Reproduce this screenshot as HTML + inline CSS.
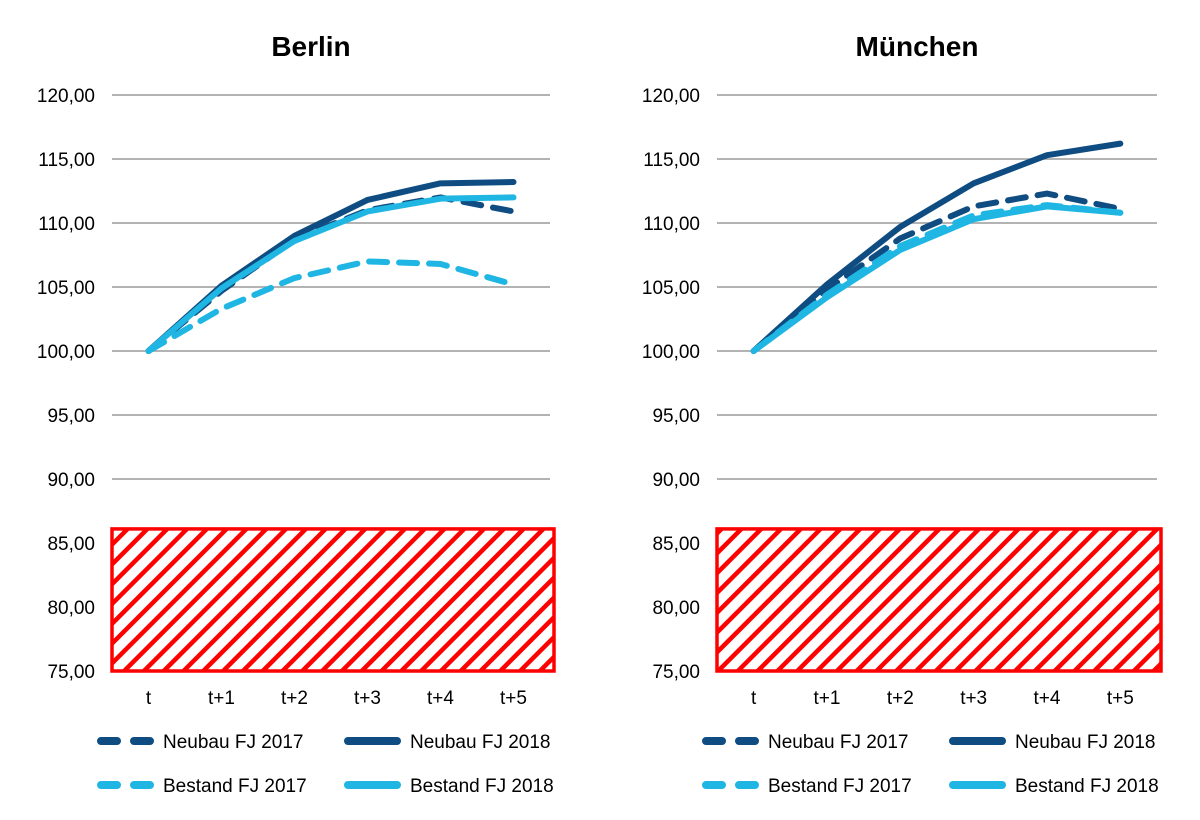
<!DOCTYPE html>
<html><head><meta charset="utf-8"><style>
body{margin:0;background:#fff;}
svg{display:block;font-family:"Liberation Sans",sans-serif;}
</style></head><body>
<svg id="c" width="1200" height="820" viewBox="0 0 1200 820">
<defs>
<pattern id="hatch" patternUnits="userSpaceOnUse" width="14" height="14" patternTransform="rotate(45)">
<rect width="14" height="14" fill="#fff"/>
<rect x="0" y="0" width="4.5" height="14" fill="#f00"/>
</pattern>
</defs>
</svg>
<script>
const categories=["t","t+1","t+2","t+3","t+4","t+5"];
const yTicks=[75,80,85,90,95,100,105,110,115,120];
const seriesNames=["Neubau FJ 2017","Neubau FJ 2018","Bestand FJ 2017","Bestand FJ 2018"];
const berlinNeubau2017=[100,104.7,108.7,111.0,112.0,110.9];
const berlinNeubau2018=[100,105.1,109.0,111.8,113.1,113.2];
const berlinBestand2017=[100,103.3,105.7,107.0,106.8,105.2];
const berlinBestand2018=[100,104.9,108.6,110.9,111.9,112.0];
const muenchenNeubau2017=[100,104.8,108.8,111.3,112.3,111.1];
const muenchenNeubau2018=[100,105.2,109.7,113.1,115.3,116.2];
const muenchenBestand2017=[100,104.4,108.2,110.6,111.4,110.8];
const muenchenBestand2018=[100,104.2,107.9,110.3,111.3,110.8];

const NS="http://www.w3.org/2000/svg";
const svg=document.getElementById('c');
function el(t,a,p){const e=document.createElementNS(NS,t);for(const k in a)e.setAttribute(k,a[k]);(p||svg).appendChild(e);return e;}
const DARK="#0f4c81",LIGHT="#1fb6e3";
const styles=[{c:DARK,d:"18 12"},{c:DARK,d:null},{c:LIGHT,d:"18 12"},{c:LIGHT,d:null}];

function chart(title,x0,x1,data,key){
  const g=el('g',{});
  
  
  const yTop=95,yBot=671;
  const yS=v=>yBot-(v-75)/(45)*(yBot-yTop);
  const bw=(x1-x0)/categories.length;
  const xS=i=>x0+bw*(i+0.5);
  const t=el('text',{x:(x0+x1)/2-20,y:56,'text-anchor':'middle','font-size':28,'font-weight':'bold',fill:'#000'},g);
  t.textContent=title;
  
  
  yTicks.forEach(v=>{
    const ln=el('line',{x1:x0,x2:x1,y1:yS(v),y2:yS(v),stroke:'#9a9a9a','stroke-width':1.5},g);
    
    
    const lb=el('text',{x:x0-17,y:yS(v)+7,'text-anchor':'end','font-size':19,fill:'#000'},g);
    lb.textContent=v.toFixed(2).replace('.',',');
    
    
  });
  const r=el('rect',{x:x0,y:yS(86.1),width:x1-x0+4,height:yS(75)-yS(86.1),fill:'url(#hatch)',stroke:'#f00','stroke-width':3.5},g);
  
  
  categories.forEach((c,i)=>{
    const tx=el('text',{x:xS(i),y:704,'text-anchor':'middle','font-size':19,fill:'#000'},g);
    tx.textContent=c;
    
    
  });
  data.forEach((arr,si)=>{
    const pts=arr.map((v,i)=>xS(i)+','+yS(v)).join(' ');
    const a={points:pts,fill:'none',stroke:styles[si].c,'stroke-width':6,'stroke-linecap':'round','stroke-linejoin':'round'};
    if(styles[si].d)a['stroke-dasharray']=styles[si].d;
    const p=el('polyline',a,g);
    
    
  });
  // legend
  const lx=[x0-14,x0+233],ly=[741,785];
  seriesNames.forEach((n,si)=>{
    const cx=lx[si%2],cy=ly[Math.floor(si/2)];
    const lg=el('g',{},g);
    
    
    const a={x1:cx+3,x2:cx+52,y1:cy,y2:cy,stroke:styles[si].c,'stroke-width':8,'stroke-linecap':'round'};
    if(styles[si].d)a['stroke-dasharray']="16 17";
    el('line',a,lg);
    const tx=el('text',{x:cx+65,y:cy+7,'font-size':19,fill:'#000'},lg);
    tx.textContent=n;
  });
}
chart("Berlin",112,550,[berlinNeubau2017,berlinNeubau2018,berlinBestand2017,berlinBestand2018],'berlin');
chart("München",717,1157,[muenchenNeubau2017,muenchenNeubau2018,muenchenBestand2017,muenchenBestand2018],'muenchen');
</script>
</body></html>
